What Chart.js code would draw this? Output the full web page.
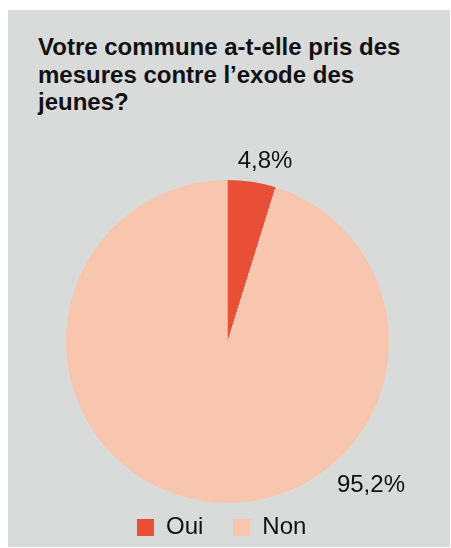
<!DOCTYPE html>
<html>
<head>
<meta charset="utf-8">
<script src="https://cdn.jsdelivr.net/npm/chart.js@4/dist/chart.umd.min.js"></script>
<style>
  html, body { margin: 0; padding: 0; background: #fff; overflow: hidden; }
  #panel {
    position: absolute; left: 8px; top: 10px; width: 442px; height: 537px;
    background: #d9dbda;
  }
  #title {
    position: absolute; left: 30px; top: 23px; margin: 0;
    font: bold 24px "Liberation Sans", Arial, sans-serif;
    line-height: 27.5px; color: #111;
  }
  #box { position: absolute; left: 0; top: 0; width: 442px; height: 537px; }
</style>
</head>
<body>
<div id="panel">
  <div id="title">Votre commune a-t-elle pris des<br>mesures contre l’exode des<br>jeunes?</div>
  <div id="box"><canvas id="pieChart"></canvas></div>
</div>
<script>
const categories = ['Oui', 'Non'];
const shares = [4.8, 95.2];
const sliceColors = ['#e94e36', '#f8c5af'];

// where each percentage sits: fraction along its arc, and distance in radii
const labelSpots = [
    { along: 0.68, dist: 1.14 },
    { along: 0.344, dist: 1.26 }
];

const fontFamily = '"Liberation Sans", Arial, sans-serif';

const percentLabels = {
    id: 'percentLabels',
    afterDatasetsDraw(chart) {
        const ctx = chart.ctx;
        const arcs = chart.getDatasetMeta(0).data;
        ctx.save();
        ctx.font = '24px ' + fontFamily;
        ctx.fillStyle = '#111';
        ctx.textAlign = 'center';
        ctx.textBaseline = 'middle';
        arcs.forEach((arc, i) => {
            const spot = labelSpots[i];
            const a = arc.startAngle + (arc.endAngle - arc.startAngle) * spot.along;
            const r = arc.outerRadius * spot.dist;
            const text = shares[i].toFixed(1).replace('.', ',') + '%';
            ctx.fillText(text, arc.x + Math.cos(a) * r, arc.y + Math.sin(a) * r);
        });
        ctx.restore();
    }
};

const canvas = document.getElementById('pieChart');
const myChart = new Chart(canvas.getContext('2d'), {
    type: 'pie',
    data: {
        labels: categories,
        datasets: [{
            data: shares,
            backgroundColor: sliceColors,
            borderWidth: 0,
            radius: 161.5,
            clip: false
        }]
    },
    options: {
        responsive: true,
        maintainAspectRatio: false,
        animation: false,
        events: [],
        layout: {
            padding: { top: 187.5, left: 99, right: 102, bottom: 0 }
        },
        plugins: {
            tooltip: { enabled: false },
            legend: {
                position: 'bottom',
                align: 'start',
                maxHeight: 61.5,
                labels: {
                    boxWidth: 17,
                    boxHeight: 17,
                    padding: 30,
                    color: '#111',
                    font: { family: fontFamily, size: 24 }
                }
            }
        }
    },
    plugins: [percentLabels]
});
</script>
</body>
</html>
